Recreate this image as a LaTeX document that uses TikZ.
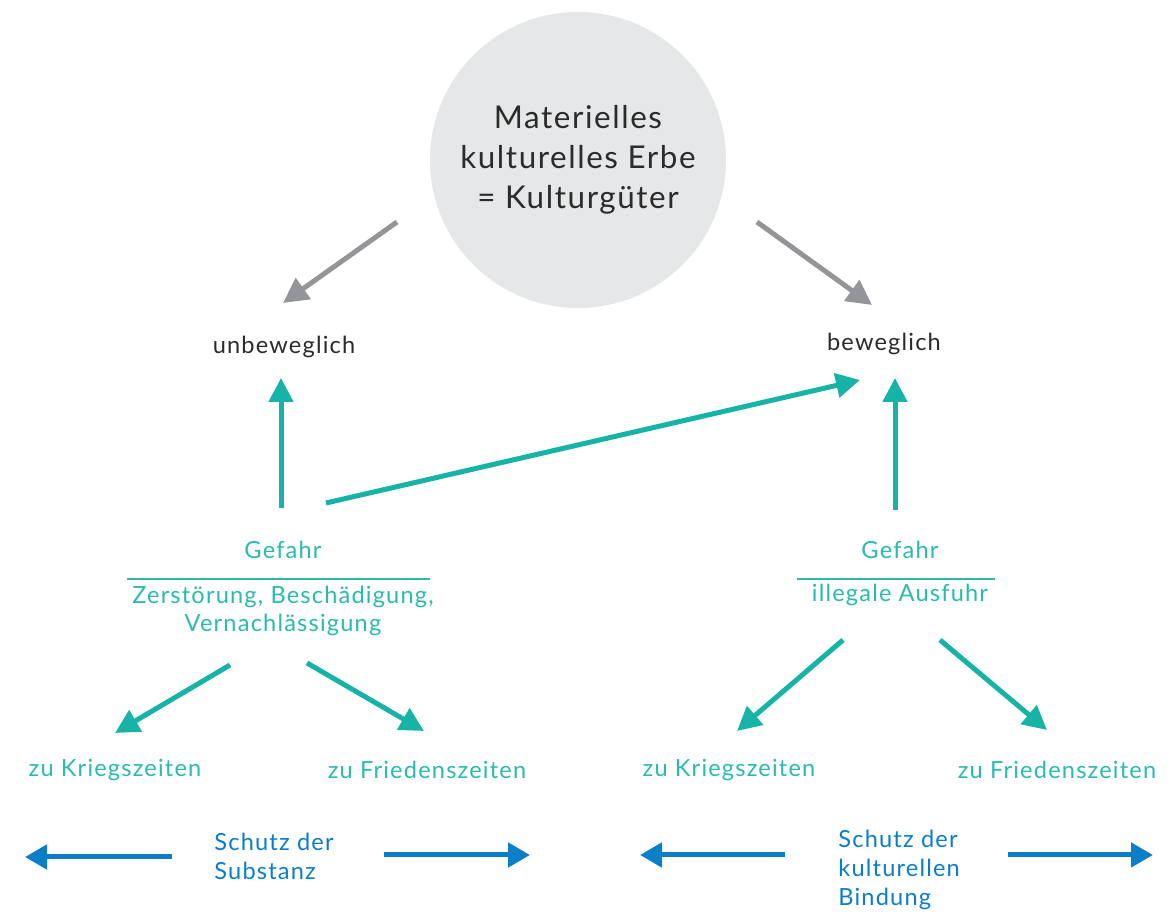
\documentclass[tikz,border=0pt]{standalone}
\usepackage{fontspec}
\setmainfont{Lato}[LetterSpace=5]
\usetikzlibrary{arrows.meta, positioning, calc}
\definecolor{kreisgrau}{HTML}{E6E7E8}
\definecolor{pfeilgrau}{HTML}{939598}
\definecolor{textgrau}{HTML}{2B2B2B}
\definecolor{tuerkis}{HTML}{17B3A6}
\definecolor{tuerkistext}{HTML}{2BBBAE}
\definecolor{schutzblau}{HTML}{0B7EC8}

\begin{document}
\begin{tikzpicture}[x=0.5pt, y=-0.5pt,
    grauerpfeil/.style={draw=pfeilgrau, line width=2.5pt, -{Triangle[length=12.5pt, width=12.5pt]}},
    tuerkispfeil/.style={draw=tuerkis, line width=2.5pt, -{Triangle[length=12pt, width=12pt]}},
    blauerpfeil/.style={draw=schutzblau, line width=2.5pt, -{Triangle[length=11pt, width=12pt]}},
    dunkeltext/.style={text=textgrau, font=\fontsize{11.8}{14}\selectfont},
    gefahrtext/.style={text=tuerkistext, font=\fontsize{11.8}{14}\selectfont, align=center},
    schutztext/.style={text=schutzblau, font=\fontsize{11.8}{14.5}\selectfont, align=left, inner sep=0pt, anchor=west}]

            \useasboundingbox (0,0) rectangle (1175,913);

            % Kreis oben
            \node[circle, fill=kreisgrau, minimum size=148pt, inner sep=0pt, align=center,
                  text=textgrau, font=\fontsize{15.7}{20}\selectfont] (erbe) at (578,160)
                  {Materielles\\kulturelles Erbe\\= Kulturgüter};

            % beweglich / unbeweglich
            \node[dunkeltext] (unbeweglich) at (284,347) {unbeweglich};
            \node[dunkeltext] (beweglich) at (884,344) {beweglich};

            % Gefahr links
            \node[gefahrtext] (gefahrL) at (283,550) {Gefahr};
            \node[gefahrtext] (gruendeL) at (283,611) {Zerstörung, Beschädigung,\\Vernachlässigung};
            \draw[tuerkistext, line width=1pt] (127,579) -- (430,579);

            % Gefahr rechts
            \node[gefahrtext] (gefahrR) at (900,550) {Gefahr};
            \node[gefahrtext] (gruendeR) at (900,595) {illegale Ausfuhr};
            \draw[tuerkistext, line width=1pt] (797,579) -- (995,579);

            % Kriegs- und Friedenszeiten
            \node[gefahrtext] (kriegL) at (115,770) {zu Kriegszeiten};
            \node[gefahrtext] (friedenL) at (427,770) {zu Friedenszeiten};
            \node[gefahrtext] (kriegR) at (729,770) {zu Kriegszeiten};
            \node[gefahrtext] (friedenR) at (1057,770) {zu Friedenszeiten};

            % Schutz
            \node[schutztext] (schutzL) at (214,856) {Schutz der\\Substanz};
            \node[schutztext] (schutzR) at (838,870) {Schutz der\\kulturellen\\Bindung};

            % graue Pfeile
            \draw[grauerpfeil] ($(erbe)+(-181,62)$) -- ($(unbeweglich)+(-1,-44)$);
            \draw[grauerpfeil] ($(erbe)+(179,62)$) -- ($(beweglich)+(-12,-39)$);

            % tuerkise Pfeile nach oben
            \draw[tuerkispfeil] ($(gefahrL)+(-2,-42)$) -- ($(unbeweglich)+(-3,31)$);
            \draw[tuerkispfeil] ($(gefahrL)+(43,-47)$) -- ($(beweglich)+(-24,36)$);
            \draw[tuerkispfeil] ($(gefahrR)+(-5,-40)$) -- ($(beweglich)+(11,34)$);

            % tuerkise Pfeile nach unten
            \draw[tuerkispfeil] ($(gruendeL)+(-53,54)$) -- ($(kriegL)+(0,-37)$);
            \draw[tuerkispfeil] ($(gruendeL)+(24,52)$) -- ($(friedenL)+(-3,-39)$);
            \draw[tuerkispfeil] ($(gruendeR)+(-57,45)$) -- ($(kriegR)+(8,-39)$);
            \draw[tuerkispfeil] ($(gruendeR)+(40,45)$) -- ($(friedenR)+(-10,-40)$);

            % blaue Pfeile
            \draw[blauerpfeil] ($(schutzL.west)+(-42,1)$) -- ++(-147,0);
            \draw[blauerpfeil] ($(schutzL.west)+(170,-1)$) -- ++(146,0);
            \draw[blauerpfeil] ($(schutzR.west)+(-53,-15)$) -- ++(-145,0);
            \draw[blauerpfeil] ($(schutzR.west)+(170,-15)$) -- ++(145,0);

            \end{tikzpicture}
\end{document}
